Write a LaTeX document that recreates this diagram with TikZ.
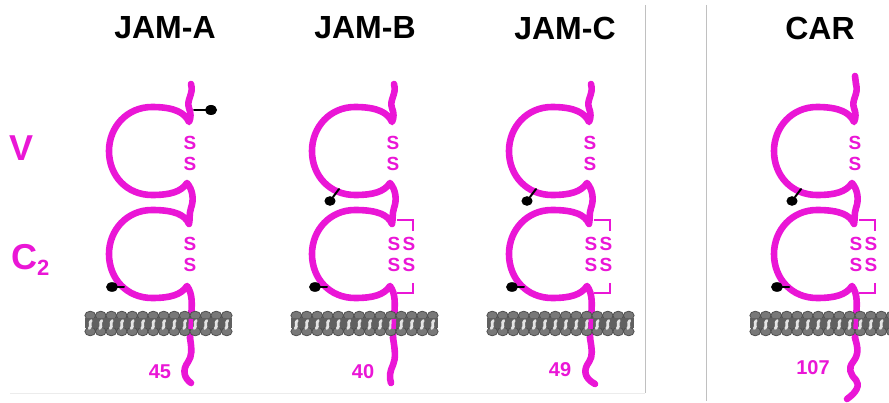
\documentclass[tikz,border=0pt]{standalone}
\usepackage{fontspec}
\setmainfont{Liberation Sans}
\definecolor{ig}{RGB}{234,22,214}
\definecolor{lipidhead}{RGB}{120,120,120}
\definecolor{lipidbody}{RGB}{96,96,96}
\definecolor{lipidedge}{RGB}{78,78,78}
\definecolor{lipidtail}{RGB}{228,228,228}
\definecolor{rulegray}{RGB}{192,192,192}
\definecolor{faintgray}{RGB}{236,236,236}
\tikzset{
  chain/.style={draw=ig, line width=6.6pt, line cap=round, line join=round},
  bridge/.style={draw=ig, line width=2pt, line join=miter},
  cys/.style={text=ig, font=\fontsize{19}{19}\selectfont\bfseries, inner sep=0pt},
  title/.style={text=black, font=\fontsize{32}{32}\selectfont\bfseries, inner sep=0pt},
  domlabel/.style={text=ig, font=\fontsize{36}{36}\selectfont\bfseries, inner sep=0pt},
  count/.style={text=ig, font=\fontsize{20}{20}\selectfont\bfseries, inner sep=0pt},
  stem/.style={draw=black, line width=2pt, line cap=round},
  divider/.style={draw=rulegray, line width=1pt},
}
% backbone of the two Ig domains, drawn around x = 0 of the current scope
\newcommand\IgBackbone{%
  \draw[chain] (1,84) .. controls (4,94) and (-4,100) .. (-1,108)
    .. controls (1,113) and (1,118) .. (-1,122)
    .. controls (-5,113) and (-15,107) .. (-38,107)
    .. controls (-63,107) and (-81,127) .. (-81,151)
    .. controls (-81,176) and (-63,195) .. (-38,195)
    .. controls (-20,195) and (-9,192) .. (-3,183)
    .. controls (3,190) and (4,200) .. (1,208)
    .. controls (-1,214) and (0,220) .. (-1,224)
    .. controls (-5,215) and (-15,210) .. (-38,210)
    .. controls (-63,210) and (-81,230) .. (-81,254)
    .. controls (-81,279) and (-63,298) .. (-38,298)
    .. controls (-20,298) and (-9,295) .. (-3,286)
    .. controls (3,294) and (2,305) .. (1,318) -- (0,338);
}
% lipid bilayer: #1 = left edge, #2 = number of lipid columns
\newcommand\Bilayer[2]{%
  \fill[lipidbody] (#1+1,316) rectangle (#1+#2*10.5-1,331);
  \foreach \k in {1,...,#2}{%
    \pgfmathsetmacro\cx{#1+10.5*\k-5.25}
    \filldraw[fill=lipidhead, draw=lipidedge, line width=0.8pt]
      (\cx,315.5) ellipse [x radius=5.4pt, y radius=4.3pt];
    \filldraw[fill=lipidhead, draw=lipidedge, line width=0.8pt]
      (\cx,331.5) ellipse [x radius=5.4pt, y radius=4.3pt];
    \fill[lipidbody] (\cx-5.3,318.5) rectangle (\cx+5.3,328.5);
    \draw[lipidtail, line width=2.8pt, line cap=round]
      (\cx+1,320.5) .. controls (\cx-1.8,323) and (\cx+1.8,326) .. (\cx-1,328.5);
  }
}
\newcommand\MembraneCross{\draw[ig, line width=4.5pt] (1,319) -- (0.5,329);}
\newcommand\VBridge{%
  \node[cys] (s1) at (0,143) {S};
  \node[cys] (s2) at (0,164) {S};
}
\newcommand\CSingle{%
  \node[cys] (c1) at (0,244) {S};
  \node[cys] (c2) at (0,265) {S};
}
\newcommand\CDouble{%
  \node[cys] (c1) at (1,244) {S};
  \node[cys] (c2) at (1,265) {S};
  \node[cys] (c3) at (16,244) {S};
  \node[cys] (c4) at (16,265) {S};
  \draw[bridge] (4,220) -- (20,220) -- (20,231);
  \draw[bridge] (20,283) -- (20,293) -- (4,293);
}
% N-glycan on the lower left of the V domain
\newcommand\VGlycan{%
  \draw[stem] (-54,189) -- (-60,197);
  \fill[black] (-63,201) ellipse [x radius=5.6pt, y radius=4.8pt];
}
% N-glycan on the lower left of the C2 domain
\newcommand\CGlycan{%
  \draw[stem] (-66,287) -- (-75,287);
  \fill[black] (-78,287) ellipse [x radius=6pt, y radius=4.8pt];
}
\begin{document}
\begin{tikzpicture}[x=1pt,y=-1pt]
\useasboundingbox (0,0) rectangle (889,403);
\clip (0,0) rectangle (889,403);

% panel rules
\draw[draw=faintgray, line width=0.8pt] (10,393) -- (645,393);
\draw[divider] (645,5) -- (645,393);
\draw[divider] (706,5) -- (706,401);

% headings and domain labels
\node[title] (tA) at (165,28) {JAM-A};
\node[title] (tB) at (365,28) {JAM-B};
\node[title] (tC) at (565,28) {JAM-C};
\node[title] (tR) at (820,28) {CAR};
\node[domlabel] (lV) at (22,148) {V};
\node[domlabel, anchor=base west] (lC) at (11,270) {C\raisebox{-0.3ex}{\fontsize{22}{22}\selectfont 2}};

% JAM-A
\begin{scope}[xshift=190pt]
  \IgBackbone
  \draw[chain] (0,338) .. controls (2,350) and (2,356) .. (-2,362)
    .. controls (-8,370) and (-6,378) .. (1,383);
  \Bilayer{-105}{14}
  \MembraneCross
  \VBridge \CSingle
  \draw[stem] (4,110) -- (16,110);
  \fill[black] (21,110) ellipse [x radius=6pt, y radius=5pt];
  \CGlycan
  \node[count] (nA) at (-30,372) {45};
\end{scope}

% JAM-B
\begin{scope}[xshift=393pt]
  \IgBackbone
  \draw[chain] (0,338) .. controls (2,350) and (3,358) .. (0,365)
    .. controls (-3,371) and (-4,377) .. (-2,383);
  \Bilayer{-102}{14}
  \MembraneCross
  \VBridge \CDouble
  \VGlycan \CGlycan
  \node[count] (nB) at (-30,372) {40};
\end{scope}

% JAM-C
\begin{scope}[xshift=590pt]
  \IgBackbone
  \draw[chain] (0,338) .. controls (2,350) and (3,356) .. (-1,362)
    .. controls (-7,370) and (-6,378) .. (5,384);
  \Bilayer{-103}{14}
  \MembraneCross
  \VBridge \CDouble
  \VGlycan \CGlycan
  \node[count] (nC) at (-30,370) {49};
\end{scope}

% CAR
\begin{scope}[xshift=855pt]
  \draw[chain] (0,76) -- (1,84);
  \IgBackbone
  \draw[chain] (0,338) .. controls (3,348) and (4,354) .. (-2,362)
    .. controls (-7,368) and (-5,374) .. (1,380)
    .. controls (5,385) and (2,392) .. (-8,399);
  \Bilayer{-105}{15}
  \MembraneCross
  \VBridge \CDouble
  \VGlycan \CGlycan
  \node[count] (nR) at (-42,368) {107};
\end{scope}
\end{tikzpicture}
\end{document}
